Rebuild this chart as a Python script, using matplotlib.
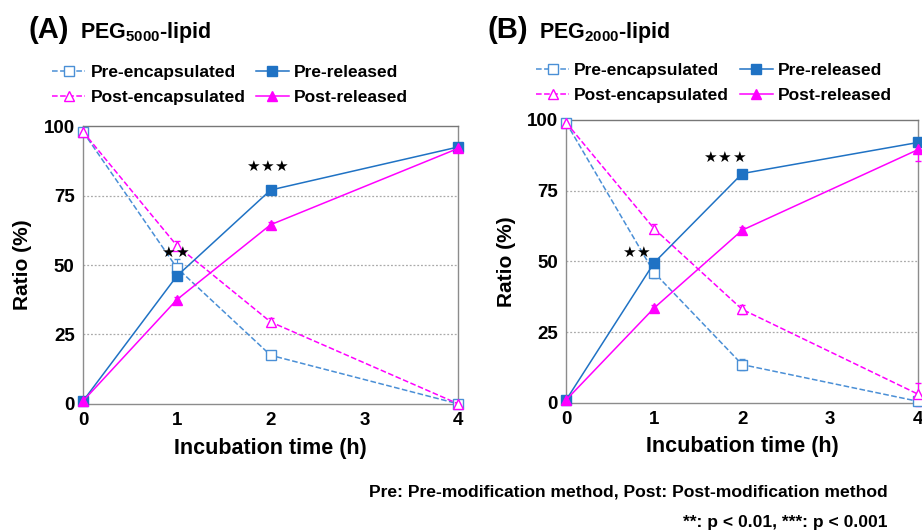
import matplotlib
matplotlib.use("Agg")
import matplotlib.pyplot as plt
from matplotlib.lines import Line2D

plt.rcParams['font.family'] = ['Liberation Sans', 'DejaVu Sans']
plt.rcParams['mathtext.fontset'] = 'custom'
plt.rcParams['mathtext.rm'] = 'Liberation Sans:bold'
plt.rcParams['mathtext.bf'] = 'Liberation Sans:bold'

# ---- data ----
time_h = [0, 1, 2, 4]
x_ticks = [0, 1, 2, 3, 4]
y_ticks = [0, 25, 50, 75, 100]

# Panel A: PEG5000-lipid
a_pre_enc = [98, 49, 17.5, 0]
a_pre_rel = [1, 46, 77, 92.5]
a_post_enc = [98, 57, 29.5, 0]
a_post_rel = [1, 37.5, 64.5, 92]
a_pre_enc_err = [1, 3, 1.5, 0.5]
a_post_enc_err = [1, 1.5, 1.5, 0.5]
a_pre_rel_err = [0.5, 1.5, 1, 1]
a_post_rel_err = [0.5, 1, 1, 1]

# Panel B: PEG2000-lipid
b_pre_enc = [99, 46, 13.5, 0.5]
b_pre_rel = [1, 49.5, 81, 92]
b_post_enc = [99, 61.5, 33, 3]
b_post_rel = [1, 33.5, 61, 89.5]
b_pre_enc_err = [1, 2, 2, 0.5]
b_post_enc_err = [1, 1.5, 1.5, 4]
b_pre_rel_err = [0.5, 1, 1, 1]
b_post_rel_err = [0.5, 1, 1, 4]

series_labels = ['Pre-encapsulated', 'Post-encapsulated', 'Pre-released', 'Post-released']

# significance marks (x, y, number of stars)
a_sig = [(0.976, 54.5, 2), (1.96, 85.6, 3)]
b_sig = [(0.795, 53, 2), (1.795, 86.6, 3)]

BLUE = '#1f72c4'
BLUE_L = '#4a8fd6'
MAG = '#ff00ff'

styles = [
    dict(color=BLUE_L, linestyle='--', marker='s', markerfacecolor='white', markeredgecolor=BLUE_L),
    dict(color=MAG, linestyle='--', marker='^', markerfacecolor='white', markeredgecolor=MAG),
    dict(color=BLUE, linestyle='-', marker='s', markerfacecolor=BLUE, markeredgecolor=BLUE),
    dict(color=MAG, linestyle='-', marker='^', markerfacecolor=MAG, markeredgecolor=MAG),
]

fig = plt.figure(figsize=(9.22, 5.3), dpi=100)

def panel(rect, series, errs, sig, letter, sub, title_xy, leg_anchor):
    ax = fig.add_axes(rect)
    kw = dict(clip_on=False, markersize=7, linewidth=1.1, capsize=2, elinewidth=0.8, zorder=3)
    for vals, err, st in zip(series, errs, styles):
        ax.errorbar(time_h, vals, yerr=err, **st, **kw)
    ax.set_xlim(0, 4)
    ax.set_ylim(0, 100)
    ax.set_xticks(x_ticks)
    ax.set_yticks(y_ticks)
    ax.tick_params(length=0, labelsize=13.5, pad=6)
    for t in ax.get_xticklabels() + ax.get_yticklabels():
        t.set_fontweight('bold')
    for g in [25, 50, 75]:
        ax.axhline(g, color='#aaaaaa', linestyle=(0, (1.5, 1.5)), linewidth=0.9, zorder=1)
    for s in ax.spines.values():
        s.set_color('#8c8c8c')
        s.set_linewidth(1.0)
    ax.spines['top'].set_color('#777777')
    ax.set_ylabel('Ratio (%)', fontsize=15, fontweight='bold', labelpad=8)
    ax.set_xlabel('Incubation time (h)', fontsize=15.5, fontweight='bold', labelpad=6)
    step = 10.3  # points between star centres
    for (sx, sy, n) in sig:
        for i in range(n):
            off = (i - (n - 1) / 2) * step
            ax.annotate('★', (sx, sy), xytext=(off, 0), textcoords='offset points',
                        ha='center', va='center', fontsize=11, family=['DejaVu Sans'], zorder=5)
    handles = [Line2D([], [], markersize=7, linewidth=1.1, **st) for st in styles]
    leg = ax.legend(handles, series_labels, ncol=2, loc='lower left', bbox_to_anchor=leg_anchor,
                    frameon=False, fontsize=12.5, handlelength=1.9, handletextpad=0.3,
                    columnspacing=0.6, labelspacing=0.58, borderaxespad=0, borderpad=0)
    for t in leg.get_texts():
        t.set_fontweight('bold')
    fig.text(title_xy[0], title_xy[1], letter, fontsize=21, fontweight='bold', va='baseline')
    fig.text(title_xy[0] + 0.0553, title_xy[1], 'PEG$_{' + sub + '}$-lipid', fontsize=15.5,
             fontweight='bold', va='baseline')
    return ax

panel([0.090, 0.238, 0.407, 0.524],
      [a_pre_enc, a_post_enc, a_pre_rel, a_post_rel],
      [a_pre_enc_err, a_post_enc_err, a_pre_rel_err, a_post_rel_err], a_sig,
      '(A)', '5000', (0.031, 0.929), (-0.082, 1.075))
panel([0.614, 0.240, 0.382, 0.534],
      [b_pre_enc, b_post_enc, b_pre_rel, b_post_rel],
      [b_pre_enc_err, b_post_enc_err, b_pre_rel_err, b_post_rel_err], b_sig,
      '(B)', '2000', (0.529, 0.929), (-0.085, 1.058))

fig.text(0.963, 0.072, 'Pre: Pre-modification method, Post: Post-modification method',
         ha='right', va='center', fontsize=12.6, fontweight='bold')
fig.text(0.963, 0.015, '**: p < 0.01, ***: p < 0.001',
         ha='right', va='center', fontsize=12.6, fontweight='bold')

fig.savefig('out.png', dpi=100)
